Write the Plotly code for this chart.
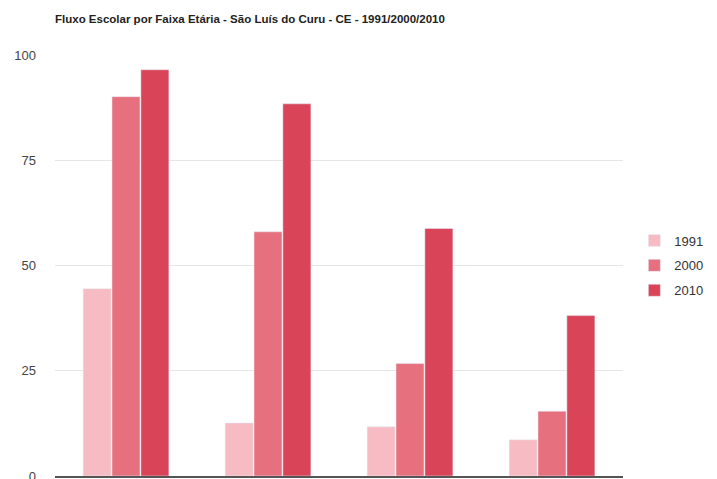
import plotly.graph_objects as go

faixas = [
    "5 a 6 anos na escola",
    "11 a 13 anos nos anos finais do fundamental",
    "15 a 17 anos com fundamental completo",
    "18 a 20 anos com médio completo",
]
v1991 = [44.5, 12.6, 11.7, 8.6]
v2000 = [90.1, 58.0, 26.7, 15.4]
v2010 = [96.5, 88.4, 58.8, 38.1]

# the page body has an 8px margin, so the layout is shifted up/left by 8px
fig = go.Figure()

fig.add_trace(go.Bar(x=faixas, y=v1991, name="1991", legendgroup="a",
                     marker=dict(color="#f7bcc3")))
fig.add_trace(go.Bar(x=faixas, y=v2000, name="2000", legendgroup="b",
                     marker=dict(color="#e7707f")))
fig.add_trace(go.Bar(x=faixas, y=v2010, name="2010", legendgroup="c",
                     marker=dict(color="#da4459")))

fig.update_layout(
    title=dict(
        text="<b>Fluxo Escolar por Faixa Etária - São Luís do Curu - CE - 1991/2000/2010</b>",
        x=47 / 717, xanchor="left",
        yref="container", y=1 - 11 / 479, yanchor="middle",
        font=dict(family="Liberation Sans, Arial", size=11.5, color="#222222"),
    ),
    width=717,
    height=479,
    margin=dict(l=47, r=102, t=47, b=11, autoexpand=False),
    barmode="group",
    bargap=0.39,
    bargroupgap=0.03,
    plot_bgcolor="white",
    paper_bgcolor="white",
    font=dict(family="Liberation Sans, Arial", size=13, color="#444444"),
    legend=dict(
        x=1.02, xanchor="left", y=0.5, yanchor="middle",
        font=dict(size=13, color="#333333"),
        itemwidth=30, tracegroupgap=5,
    ),
    showlegend=True,
)

fig.update_xaxes(
    showticklabels=False,
    showline=True, linecolor="#555555", linewidth=1.5,
    showgrid=False, ticks="", automargin=False,
)
fig.update_yaxes(
    range=[0, 100],
    tickvals=[0, 25, 50, 75, 100],
    showgrid=True, gridcolor="#e6e6e6",
    zeroline=False,
    ticks="", ticklabelstandoff=18, automargin=False,
)

fig.write_html("out.html")
